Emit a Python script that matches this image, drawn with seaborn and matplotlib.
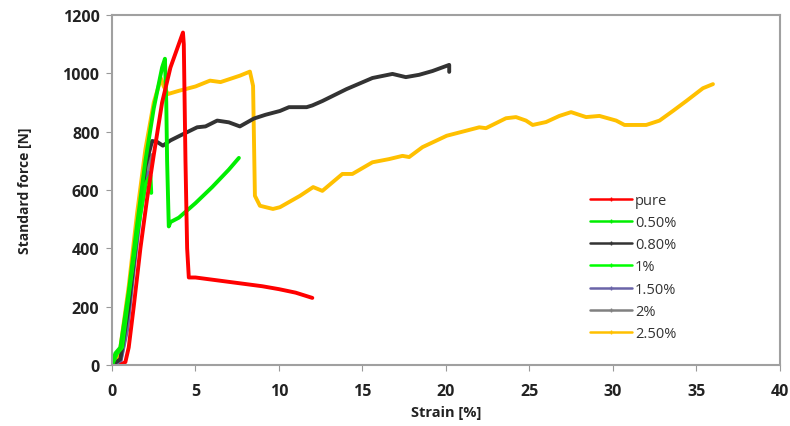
import numpy as np
import pandas as pd
import matplotlib
matplotlib.use("Agg")
import matplotlib.pyplot as plt
import seaborn as sns

# strain [%] / standard force [N]
pure_x = [0.5, 0.8, 1.0, 1.3, 1.7, 2.1, 2.5, 3.0, 3.5, 4.0, 4.25, 4.3, 4.4, 4.5, 4.6, 5.0, 7.0, 9.0, 10.0, 11.0, 12.0]
pure_y = [0, 10, 60, 200, 400, 570, 720, 900, 1020, 1100, 1140, 1100, 700, 400, 300, 300, 285, 270, 260, 248, 230]

p050_x = [0.0, 0.2, 0.5, 1.0, 1.5, 2.0, 2.5, 3.0, 3.17, 3.25, 3.3, 3.4, 3.5, 4.0, 5.0, 6.0, 7.0, 7.6]
p050_y = [0, 40, 60, 250, 480, 700, 880, 1020, 1050, 900, 700, 475, 490, 505, 555, 610, 670, 710]

p080_x = [0.0, 0.5, 1.0, 1.5, 2.0, 2.4, 2.7, 3.05, 3.5, 4.2, 5.1, 5.6, 6.3, 7.0, 7.66, 8.5, 9.2, 10.06, 10.6,
          11.66, 12.0, 12.6, 14.05, 15.6, 16.8, 17.6, 18.4, 19.2, 20.2, 20.2]
p080_y = [0, 20, 200, 450, 680, 768, 765, 752, 770, 790, 815, 818, 838, 832, 818, 845, 858, 871, 884,
          884, 890, 905, 946, 984, 998, 987, 995, 1008, 1029, 1005]

p100_x = [0.0, 0.3, 0.6, 1.0, 1.5, 2.0, 2.3, 2.35]
p100_y = [0, 40, 60, 240, 450, 620, 650, 590]

p150_x = [0.0, 0.5, 0.9, 1.3, 1.7, 2.0, 2.2]
p150_y = [0, 10, 120, 330, 520, 620, 660]

p200_x = [0.0, 0.5, 0.9, 1.3, 1.7, 2.1, 2.4]
p200_y = [0, 15, 130, 340, 530, 660, 720]

p250_x = [0.0, 0.3, 0.5, 1.0, 1.5, 2.0, 2.5, 2.93, 3.1, 3.35, 4.0, 5.0, 5.87, 6.5, 7.66, 8.26, 8.45, 8.56,
          8.86, 9.64, 10.06, 11.26, 12.05, 12.6, 13.8, 14.4, 15.6, 16.6, 17.4, 17.8, 18.6, 20.05, 21.6,
          22.0, 22.4, 23.6, 24.2, 24.8, 25.2, 26.0, 26.8, 27.5, 28.4, 29.2, 30.2, 30.7, 32.0, 32.8,
          33.6, 34.4, 35.4, 36.0]
p250_y = [0, 20, 60, 270, 520, 740, 900, 983, 955, 929, 940, 955, 975, 970, 992, 1006, 957, 580,
          546, 535, 541, 580, 610, 597, 655, 655, 695, 706, 717, 713, 747, 786, 809,
          815, 812, 846, 850, 838, 823, 833, 854, 867, 850, 854, 838, 823, 823, 838,
          871, 905, 949, 963]

labels = ["pure", "0.50%", "0.80%", "1%", "1.50%", "2%", "2.50%"]
colors = ["#ff0000", "#00ee00", "#333333", "#00ff00", "#6a64a8", "#808080", "#ffc000"]
xs = [pure_x, p050_x, p080_x, p100_x, p150_x, p200_x, p250_x]
ys = [pure_y, p050_y, p080_y, p100_y, p150_y, p200_y, p250_y]

frames = []
for lab, x, y in zip(labels, xs, ys):
    frames.append(pd.DataFrame({"strain": x, "force": y, "sample": lab}))
df = pd.concat(frames, ignore_index=True)

sns.set_style("white")
plt.rcParams["font.family"] = ["Open Sans", "DejaVu Sans"]

fig = plt.figure(figsize=(7.9, 4.27), dpi=100)
ax = fig.add_axes([0.1418, 0.1429, 0.8452, 0.8196])

# draw the later samples first so red/green stay on top like the reference
draw_order = ["2%", "1.50%", "2.50%", "0.80%", "1%", "0.50%", "pure"]
pal = dict(zip(labels, colors))
for lab in draw_order:
    sub = df[df["sample"] == lab]
    sns.lineplot(data=sub, x="strain", y="force", color=pal[lab], sort=False,
                 estimator=None, lw=2.8, ax=ax, legend=False)

handles = [plt.Line2D([], [], color=pal[l], lw=1.8, marker="+", markersize=3) for l in labels]
ax.legend(handles, labels, frameon=False, loc="upper left", bbox_to_anchor=(0.696, 0.53),
          handlelength=2.9, handletextpad=0.2, labelspacing=0.5, fontsize=10.5,
          labelcolor="#333333")

ax.set_xlim(0, 40)
ax.set_ylim(0, 1200)
ax.set_xticks(range(0, 41, 5))
ax.set_yticks(range(0, 1201, 200))
ax.set_xlabel("Strain [%]", fontsize=10.5, fontweight="bold", color="#222222")
ax.set_ylabel("Standard force [N]", fontsize=10, fontweight="bold", color="#222222")
ax.tick_params(axis="both", which="both", direction="out", length=4, color="#999999",
               labelsize=11.5, bottom=True, left=True)
ax.tick_params(axis="x", pad=9)
ax.tick_params(axis="y", pad=5)
for t in ax.get_xticklabels() + ax.get_yticklabels():
    t.set_fontweight("bold")
    t.set_color("#222222")
ax.xaxis.labelpad = 4
ax.yaxis.labelpad = 22
for s in ax.spines.values():
    s.set_color("#a0a0a0")
    s.set_linewidth(1.5)

fig.savefig("out.png", dpi=100)
